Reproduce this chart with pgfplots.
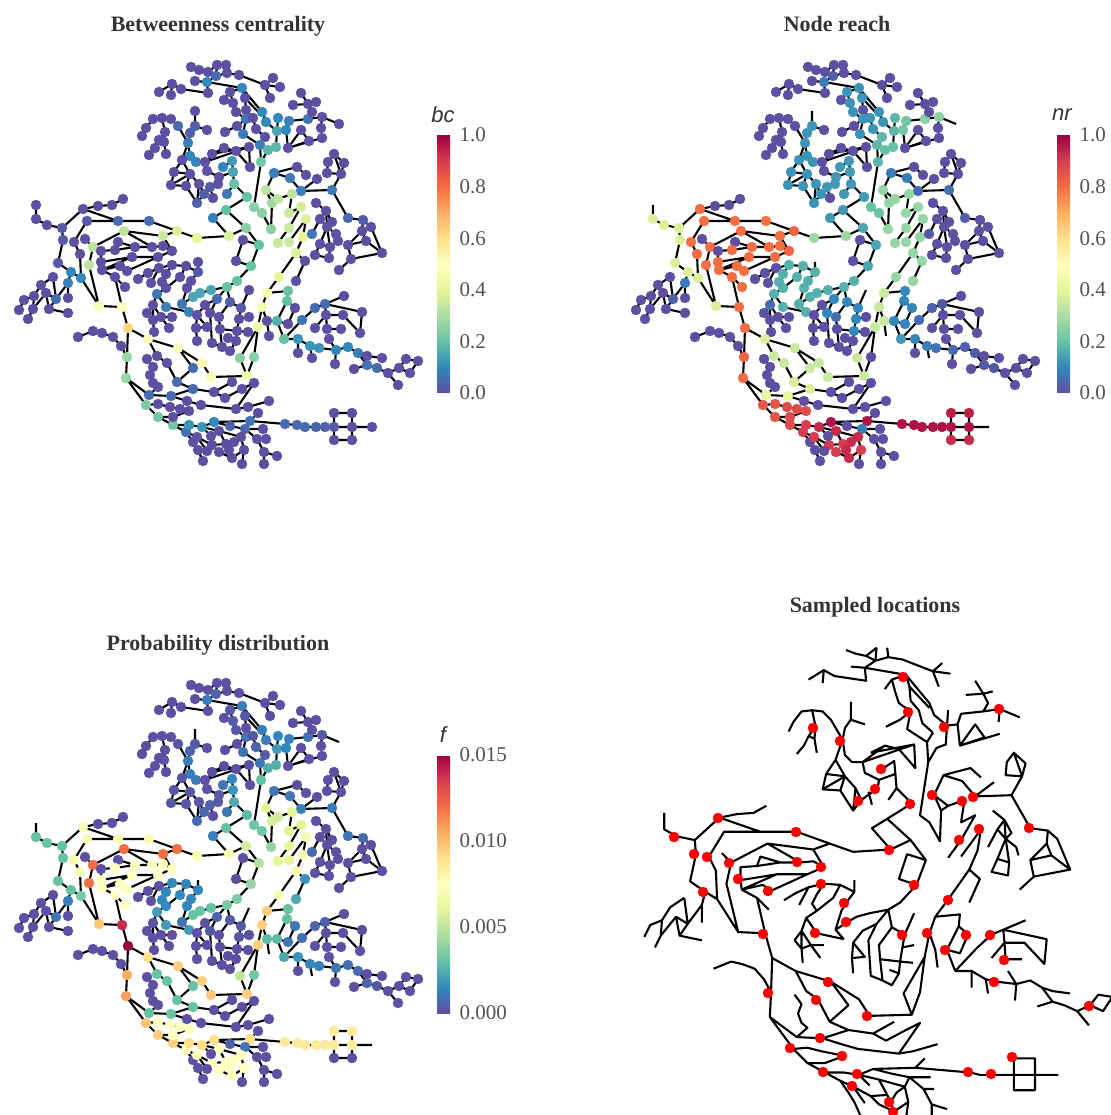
\documentclass[border=0pt]{standalone}
\usepackage{fontspec}
\setmainfont{Liberation Serif}
\newfontfamily\labfont{Liberation Sans}
\usepackage{pgfplots}
\usepackage{pgfplotstable}
\pgfplotsset{compat=1.18}
\definecolor{txt}{HTML}{333333}
\pgfplotsset{colormap={spec}{rgb255=(94,79,162) rgb255=(50,136,189) rgb255=(102,194,165) rgb255=(171,221,164) rgb255=(230,245,152) rgb255=(255,255,191) rgb255=(254,224,139) rgb255=(253,174,97) rgb255=(244,109,67) rgb255=(213,62,79) rgb255=(158,1,66)}}
\pgfplotstableread[row sep=crcr]{
x y\\
191 67\\199 70\\208 72\\217 65\\nan nan\\
217 65\\216 76\\207 82\\195 81\\nan nan\\
207 82\\208 93\\181 89\\172 84\\159 92\\nan nan\\
172 84\\171 95\\nan nan\\
208 72\\216 76\\227 73\\239 75\\265 85\\280 87\\nan nan\\
226 65\\227 73\\nan nan\\
265 85\\273 78\\nan nan\\
265 85\\270 98\\nan nan\\
207 82\\242 88\\262 112\\nan nan\\
242 88\\230 92\\224 100\\nan nan\\
230 92\\233 103\\236 112\\246 119\\237 126\\225 132\\nan nan\\
242 88\\245 98\\246 110\\253 118\\256 129\\265 137\\nan nan\\
245 98\\262 116\\nan nan\\
246 119\\243 134\\260 145\\261 162\\268 150\\276 147\\277 131\\278 118\\nan nan\\
262 112\\266 122\\277 131\\nan nan\\
265 137\\260 145\\nan nan\\
286 130\\277 131\\nan nan\\
286 130\\289 121\\308 119\\322 117\\339 124\\nan nan\\
286 130\\288 148\\nan nan\\
322 117\\321 128\\nan nan\\
308 119\\312 112\\308 104\\293 105\\nan nan\\
308 104\\316 102\\nan nan\\
308 104\\301 93\\nan nan\\
288 148\\301 130\\309 141\\288 148\\322 138\\nan nan\\
195 111\\195 126\\207 130\\nan nan\\
195 126\\190 133\\188 143\\178 126\\171 119\\162 118\\153 119\\146 128\\142 136\\nan nan\\
162 118\\165 132\\159 140\\155 148\\149 155\\nan nan\\
165 132\\164 142\\166 154\\nan nan\\
159 140\\164 142\\nan nan\\
188 143\\190 156\\196 162\\205 162\\nan nan\\
188 143\\182 160\\174 172\\171 185\\186 186\\197 203\\199 184\\190 174\\182 160\\nan nan\\
174 172\\190 174\\171 185\\nan nan\\
186 186\\190 174\\nan nan\\
197 203\\204 194\\218 184\\219 177\\207 171\\205 162\\nan nan\\
199 184\\204 194\\nan nan\\
210 187\\213 198\\nan nan\\
205 162\\224 148\\236 151\\250 167\\249 147\\205 162\\nan nan\\
212 154\\224 148\\nan nan\\
212 154\\249 147\\nan nan\\
223 167\\232 161\\233 172\\234 184\\247 197\\226 210\\nan nan\\
219 177\\233 172\\nan nan\\
234 184\\227 194\\nan nan\\
226 210\\213 218\\229 236\\197 238\\177 231\\149 221\\118 221\\87 221\\74 242\\80 254\\81 278\\nan nan\\
226 210\\246 228\\229 236\\nan nan\\
246 228\\259 245\\243 240\\236 261\\251 266\\259 245\\nan nan\\
251 266\\237 281\\227 287\\211 290\\200 293\\193 297\\182 304\\189 312\\nan nan\\
36 205\\36 219\\47 225\\62 228\\83 209\\98 206\\112 205\\123 199\\nan nan\\
83 209\\118 221\\nan nan\\
62 228\\63 240\\58 263\\71 272\\81 278\\99 306\\122 307\\128 328\\127 357\\126 378\\nan nan\\
71 272\\68 283\\68 298\\nan nan\\
68 283\\56 299\\46 293\\33 309\\28 319\\nan nan\\
53 277\\41 285\\34 296\\24 300\\19 310\\nan nan\\
34 296\\33 309\\nan nan\\
53 277\\56 299\\49 309\\68 313\\nan nan\\
46 293\\49 309\\nan nan\\
177 231\\163 236\\124 231\\93 247\\85 239\\nan nan\\
93 247\\89 265\\99 306\\nan nan\\
163 236\\172 251\\163 246\\152 247\\135 247\\118 242\\115 250\\101 251\\101 262\\102 270\\nan nan\\
124 231\\152 247\\nan nan\\
115 250\\135 247\\nan nan\\
101 262\\132 257\\158 257\\172 251\\nan nan\\
102 270\\132 257\\nan nan\\
102 270\\120 266\\127 271\\158 257\\nan nan\\
102 270\\115 277\\125 287\\nan nan\\
115 277\\122 307\\nan nan\\
138 279\\148 273\\159 268\\172 265\\186 266\\198 272\\198 262\\nan nan\\
198 272\\191 281\\187 288\\182 304\\nan nan\\
186 266\\180 277\\166 288\\157 294\\153 305\\147 313\\nan nan\\
172 265\\166 274\\162 282\\166 288\\nan nan\\
151 283\\159 268\\nan nan\\
157 294\\166 307\\189 312\\nan nan\\
153 305\\153 320\\154 332\\nan nan\\
147 313\\153 320\\161 317\\172 317\\nan nan\\
161 317\\169 328\\nan nan\\
161 317\\153 305\\nan nan\\
227 287\\217 299\\205 305\\197 315\\196 328\\207 327\\197 315\\nan nan\\
196 328\\197 341\\nan nan\\
217 299\\210 313\\212 343\\222 347\\230 351\\236 341\\nan nan\\
227 287\\230 302\\241 308\\239 319\\237 331\\220 329\\219 317\\230 302\\nan nan\\
241 308\\249 290\\nan nan\\
239 319\\249 317\\nan nan\\
237 331\\248 332\\nan nan\\
228 338\\236 341\\237 331\\nan nan\\
220 329\\222 347\\nan nan\\
261 162\\254 207\\262 213\\271 229\\272 203\\266 190\\274 173\\297 167\\306 175\\nan nan\\
274 173\\290 178\\301 191\\332 190\\341 174\\327 173\\328 162\\334 154\\344 163\\341 174\\nan nan\\
334 154\\341 174\\nan nan\\
301 191\\317 179\\nan nan\\
266 190\\278 199\\292 194\\289 213\\301 207\\289 228\\278 243\\nan nan\\
272 203\\278 199\\nan nan\\
306 219\\289 242\\nan nan\\
306 219\\303 237\\296 253\\279 277\\267 293\\262 307\\258 327\\nan nan\\
296 253\\305 261\\296 281\\nan nan\\
332 190\\348 218\\363 220\\371 227\\382 253\\351 259\\339 270\\nan nan\\
363 220\\362 231\\348 245\\351 259\\nan nan\\
362 231\\366 241\\382 253\\nan nan\\
348 245\\366 241\\nan nan\\
316 203\\326 211\\320 219\\312 234\\nan nan\\
326 211\\332 222\\327 227\\336 234\\338 241\\nan nan\\
326 211\\327 227\\330 247\\329 258\\315 255\\320 244\\330 247\\nan nan\\
320 219\\327 227\\320 244\\nan nan\\
267 293\\288 291\\287 301\\277 321\\284 339\\nan nan\\
287 301\\295 308\\288 324\\277 321\\nan nan\\
262 307\\267 321\\269 336\\nan nan\\
258 327\\240 358\\247 376\\211 377\\202 363\\178 348\\148 339\\128 328\\nan nan\\
258 327\\254 357\\247 376\\nan nan\\
148 339\\157 356\\167 363\\177 382\\193 368\\178 348\\nan nan\\
126 378\\149 395\\171 396\\193 389\\214 392\\232 382\\nan nan\\
177 382\\193 389\\nan nan\\
214 392\\225 398\\242 389\\254 383\\236 409\\nan nan\\
171 396\\187 401\\201 405\\236 409\\248 407\\269 401\\nan nan\\
127 357\\121 346\\113 337\\102 333\\93 331\\78 337\\nan nan\\
147 359\\153 367\\150 375\\153 383\\158 387\\149 395\\nan nan\\
126 378\\146 405\\158 417\\173 425\\189 425\\202 427\\214 422\\250 421\\285 424\\297 425\\305 427\\316 427\\325 427\\334 427\\352 427\\372 427\\nan nan\\
146 405\\158 404\\170 407\\180 409\\189 411\\173 417\\158 417\\nan nan\\
334 413\\352 413\\352 440\\334 440\\334 413\\nan nan\\
250 421\\258 413\\nan nan\\
173 425\\186 432\\193 442\\198 450\\203 461\\nan nan\\
186 432\\197 437\\207 451\\nan nan\\
202 427\\211 436\\nan nan\\
197 437\\212 445\\226 444\\nan nan\\
202 427\\219 431\\226 444\\229 450\\232 458\\219 452\\212 445\\nan nan\\
214 422\\230 426\\245 429\\263 429\\nan nan\\
219 431\\241 437\\234 442\\229 450\\nan nan\\
245 429\\241 437\\244 450\\232 458\\nan nan\\
244 450\\242 464\\nan nan\\
245 429\\257 439\\264 452\\264 464\\nan nan\\
264 452\\277 456\\nan nan\\
257 439\\266 439\\nan nan\\
284 339\\298 339\\310 346\\319 348\\336 350\\348 347\\358 353\\367 356\\382 358\\nan nan\\
298 339\\298 353\\nan nan\\
310 346\\312 358\\nan nan\\
336 350\\329 339\\nan nan\\
336 350\\335 364\\nan nan\\
358 353\\367 365\\377 368\\388 373\\399 368\\406 359\\418 361\\410 373\\399 368\\nan nan\\
388 373\\398 385\\nan nan\\
367 365\\354 369\\nan nan\\
284 339\\302 320\\315 308\\325 304\\344 296\\nan nan\\
325 304\\362 312\\360 333\\343 315\\326 315\\325 304\\nan nan\\
326 315\\315 328\\nan nan\\
326 315\\327 329\\341 329\\nan nan\\
}\edgetable
\pgfplotstableread[row sep=crcr]{
x y bc nr f\\
191 67 0 0 0\\199 70 0 0 0\\208 72 0 0 0\\217 65 0 0 0\\226 65 0 0 0\\216 76 .05 .03 .5\\227 73 0 0 0\\239 75 0 0 0\\265 85 0 0 0\\273 78 0 0 0\\280 87 0 0 0\\270 98 0 0 0\\
207 82 .1 .08 1.2\\195 81 0 0 0\\208 93 0 0 0\\181 89 0 0 0\\172 84 0 0 0\\159 92 0 0 0\\171 95 0 0 0\\
242 88 .1 .12 1.2\\230 92 0 .12 .3\\224 100 0 0 0\\233 103 0 .12 .3\\245 98 0 .12 .3\\236 112 0 .12 .3\\246 110 0 0 0\\246 119 .07 .12 1\\253 118 0 .12 .3\\237 126 0 0 0\\225 132 0 0 0\\243 134 .08 .12 1\\256 129 0 .12 .5\\262 112 .1 .12 1.2\\266 122 .1 .12 1.2\\278 118 .1 .18 1.5\\277 131 .15 .18 2\\286 130 .1 .22 1.5\\289 121 .08 .22 1.3\\265 137 0 .18 .3\\260 145 .08 .18 1\\268 150 .18 .2 2.5\\276 147 .18 .2 2.5\\261 162 .22 .18 3\\288 148 0 0 0\\301 130 0 0 0\\309 141 0 0 0\\322 138 0 0 0\\308 119 .07 .25 1\\322 117 0 .25 .3\\321 128 0 0 0\\293 105 0 0 0\\308 104 0 0 0\\316 102 0 0 0\\301 93 0 0 0\\312 112 0 0 0\\
195 126 .03 .12 .3\\207 130 0 0 0\\190 133 .03 .12 .5\\188 143 .08 .12 1.2\\178 126 .05 0 .2\\171 119 0 0 0\\162 118 0 0 0\\153 119 0 0 0\\146 128 0 0 0\\142 136 0 0 0\\165 132 0 0 0\\159 140 0 0 0\\164 142 0 0 0\\155 148 0 0 0\\149 155 0 0 0\\166 154 0 0 0\\
190 156 .1 .12 1.2\\196 162 .1 .12 1.2\\182 160 0 .12 .2\\174 172 0 .12 .2\\171 185 0 .12 .2\\190 174 0 .12 .2\\186 186 0 .12 .2\\199 184 0 .12 .2\\197 203 .03 .12 .8\\204 194 .03 .12 .6\\213 198 0 0 0\\210 187 .02 .13 .5\\218 184 0 .13 .3\\219 177 0 .13 .3\\207 171 0 0 0\\205 162 0 0 0\\212 154 0 0 0\\224 148 0 0 0\\236 151 0 0 0\\249 147 0 0 0\\250 167 0 0 0\\223 167 .1 .13 1\\232 161 .13 .13 1.5\\233 172 .15 .13 1.8\\234 184 .2 .13 2.4\\227 194 .07 .13 1\\247 197 .2 .13 2.8\\226 210 .2 .13 3\\213 218 .08 .13 1.3\\229 236 .38 .28 7\\246 228 .25 .15 5.5\\259 245 .2 .15 4.7\\243 240 0 0 0\\236 261 0 0 0\\251 266 .2 .15 4\\
36 219 0 .38 3\\47 225 0 .38 3\\62 228 .02 .38 3\\83 209 0 .8 7\\98 206 0 0 0\\112 205 0 0 0\\123 199 0 0 0\\118 221 .05 .8 7\\149 221 .05 .8 7\\87 221 .02 .8 7\\177 231 .38 .82 12\\197 238 .4 .28 7\\163 236 .35 .8 12\\124 231 .33 .8 12\\93 247 .33 .8 12\\85 239 0 0 0\\63 240 .02 .38 3\\58 263 .02 .38 3\\74 242 0 .8 7\\80 254 0 .8 7\\89 265 .33 .8 12\\71 272 .1 .38 3\\81 278 .1 .38 3.4\\68 283 .08 .08 1.2\\68 298 0 0 0\\56 299 .05 .03 1\\53 277 0 0 0\\41 285 0 0 0\\46 293 0 0 0\\34 296 0 0 0\\24 300 0 0 0\\19 310 0 0 0\\33 309 0 0 0\\28 319 0 0 0\\49 309 0 0 0\\68 313 0 0 0\\
118 242 0 0 0\\135 247 0 .8 7.5\\152 247 0 .8 7.5\\163 246 0 .8 7.5\\172 251 0 .82 7.5\\115 250 0 .8 7.5\\101 251 0 0 0\\132 257 0 .8 7.5\\158 257 0 .8 7.5\\101 262 0 .8 7.5\\102 270 0 .8 7.5\\120 266 0 .8 7.5\\127 271 0 .8 7.5\\115 277 0 .8 7.5\\125 287 0 .8 7.5\\
138 279 0 0 0\\148 273 0 0 0\\159 268 0 0 0\\172 265 0 .17 1.5\\186 266 0 .17 1.5\\198 272 .02 .17 1.5\\180 277 0 .17 1.5\\166 274 0 .17 1.5\\162 282 0 .17 1.5\\151 283 0 0 0\\191 281 0 .17 1.5\\187 288 0 .17 1.5\\166 288 0 .17 1.5\\157 294 .07 .17 2\\153 305 0 .05 0\\147 313 0 0 0\\153 320 0 0 0\\161 317 0 0 0\\172 317 0 0 0\\154 332 0 0 0\\169 328 0 0 0\\166 307 .08 .17 2\\
182 304 .07 .17 1\\189 312 .1 .17 2\\193 297 .15 .17 3\\200 293 .15 .17 3\\211 290 .15 .17 3\\227 287 .2 .17 3.4\\237 281 .2 .17 3.5\\
217 299 .05 .1 .5\\230 302 .03 .1 .3\\241 308 .02 .1 .3\\205 305 0 0 0\\197 315 0 0 0\\210 313 0 .1 .2\\219 317 0 .05 0\\239 319 0 .1 .2\\249 317 0 0 0\\196 328 0 0 0\\207 327 0 0 0\\197 341 0 0 0\\212 343 0 0 0\\220 329 0 0 0\\237 331 0 .1 0\\248 332 0 0 0\\228 338 0 0 0\\236 341 0 0 0\\222 347 0 0 0\\230 351 0 0 0\\
279 277 .4 .27 7\\296 281 0 .27 2.3\\305 261 0 .27 1.7\\267 293 .47 .35 9.5\\288 291 .2 .1 3\\287 301 .2 .1 3\\295 308 0 .1 1\\277 321 .17 .1 2.8\\288 324 0 .1 1\\262 307 .47 .35 9.5\\267 321 0 .35 2.8\\258 327 .45 .35 9.5\\284 339 .2 .13 2.3\\298 339 .12 .1 1.8\\298 353 0 0 0\\310 346 .12 .08 1.5\\319 348 .12 .07 1.3\\336 350 .1 .05 1.1\\329 339 0 0 0\\335 364 0 0 0\\348 347 .1 .03 .9\\358 353 .08 .02 .7\\367 356 0 0 0\\382 358 0 0 0\\367 365 .06 .02 .5\\377 368 .05 .02 .3\\354 369 0 0 0\\388 373 0 0 0\\398 385 0 0 0\\399 368 0 0 0\\406 359 0 0 0\\418 361 0 0 0\\410 373 0 0 0\\
302 320 .07 .05 .8\\315 308 .05 .03 .6\\325 304 .05 .02 .5\\344 296 0 0 0\\362 312 0 0 0\\343 315 0 0 0\\326 315 0 0 0\\315 328 0 0 0\\327 329 0 0 0\\341 329 0 0 0\\360 333 0 0 0\\
240 358 .25 .35 5\\254 357 .25 0 3.3\\247 376 .45 .35 9.5\\211 377 .47 .35 9.8\\232 382 0 0 0\\254 383 0 0 0\\242 389 0 0 0\\225 398 0 0 0\\214 392 0 0 0\\236 409 0 0 0\\248 407 0 0 0\\269 401 0 0 0\\258 413 0 0 0\\
250 421 .07 .97 9\\214 422 .1 .97 9\\285 424 .05 .97 8.5\\297 425 .05 .97 8.5\\305 427 .05 .97 8.5\\316 427 .04 .97 8.5\\325 427 .03 .97 8.5\\334 427 .02 .97 8.5\\352 427 0 .97 8.5\\334 413 0 .95 8.5\\352 413 0 .95 8.5\\334 440 0 .93 0\\352 440 0 .93 0\\
230 426 .03 0 .5\\245 429 .05 .08 1\\263 429 0 0 0\\257 439 0 0 0\\266 439 0 0 0\\241 437 0 .93 7.5\\234 442 0 .93 7.5\\244 450 0 .9 7.5\\242 464 0 0 0\\264 452 0 0 0\\277 456 0 0 0\\264 464 0 0 0\\226 444 0 .9 7.5\\229 450 0 .93 7.5\\232 458 0 .93 7.5\\219 431 0 .93 7.5\\219 452 0 .9 7.5\\212 445 0 .9 7.5\\211 436 0 0 0\\193 442 0 0 0\\198 450 0 0 0\\203 461 0 0 0\\207 451 0 0 0\\197 437 .01 .9 7.5\\186 432 .06 .9 7.7\\202 427 .12 .93 9\\189 425 .12 .9 9\\173 425 .22 .87 9.5\\158 417 .22 .85 9.5\\146 405 .23 .85 9.8\\158 404 0 .85 7.5\\170 407 0 .87 7.5\\180 409 0 .87 7.5\\189 411 0 .87 7.5\\173 417 0 .87 7.5\\
126 378 .27 .8 10.8\\127 357 .27 .82 10.5\\128 328 .62 .8 15\\122 307 .5 .8 14\\99 306 .48 .38 9.8\\148 339 .48 .38 9\\178 348 .48 .35 9.5\\157 356 0 .35 3\\167 363 0 .35 3\\177 382 .05 .38 3\\193 368 .05 .35 3\\202 363 .48 .35 9.5\\193 389 .05 .38 3\\149 395 .05 .42 3\\171 396 .05 .42 3\\187 401 0 0 0\\201 405 0 0 0\\
121 346 0 0 0\\113 337 0 0 0\\102 333 0 0 0\\93 331 0 0 0\\78 337 0 0 0\\147 359 0 0 0\\153 367 0 0 0\\150 375 0 0 0\\153 383 0 0 0\\158 387 0 0 0\\
274 173 .08 .08 1\\266 190 .33 .27 6\\290 178 .08 .08 1\\297 167 0 0 0\\306 175 0 0 0\\301 191 .08 .05 1.3\\317 179 0 0 0\\332 190 .08 .06 1.2\\327 173 0 0 0\\328 162 0 0 0\\334 154 0 0 0\\344 163 0 0 0\\341 174 0 0 0\\348 218 .05 .03 1\\363 220 .03 0 .7\\371 227 0 0 0\\362 231 0 0 0\\366 241 0 0 0\\348 245 0 0 0\\382 253 0 0 0\\351 259 0 0 0\\339 270 0 0 0\\
272 203 .28 .27 5.5\\278 199 .33 .27 5.5\\292 194 .33 .27 6\\289 213 .35 .27 6\\301 207 .37 .27 6\\254 207 .25 .2 3.2\\262 213 .25 .2 3.2\\271 229 .25 .27 4\\306 219 .38 .27 7\\289 228 .35 .27 6\\278 243 .35 .27 6\\289 242 .35 .27 6\\303 237 .4 .27 7\\296 253 .38 .27 7\\
316 203 0 0 0\\326 211 0 0 0\\320 219 0 0 0\\332 222 0 0 0\\327 227 0 0 0\\336 234 0 0 0\\338 241 0 0 0\\320 244 0 0 0\\330 247 0 0 0\\315 255 0 0 0\\329 258 0 0 0\\312 234 .07 .02 .7\\
}\nettable
\pgfplotstableread[row sep=crcr]{
x y\\36 205\\195 111\\198 262\\249 290\\269 336\\312 358\\339 124\\372 427\\
}\stubtable
\pgfplotstableread[row sep=crcr]{
x y\\
718 818\\674 837\\694 854\\707 857\\729 863\\796 832\\797 862\\821 867\\738 879\\813 728\\840 741\\858 801\\
903 677\\908 712\\944 727\\999 709\\881 769\\875 789\\910 804\\932 795\\962 801\\973 797\\889 850\\1029 828\\979 829\\959 840\\
703 892\\768 891\\821 884\\844 903\\846 922\\815 933\\763 934\\828 982\\816 1000\\768 993\\867 1016\\820 1038\\790 1048\\842 1056\\823 1072\\857 1074\\852 1086\\
914 885\\948 900\\902 935\\927 933\\966 935\\990 935\\945 950\\1004 960\\994 982\\1089 1006\\1012 1057\\968 1072\\991 1074\\889 1102\\893 1112\\
}\samples
\pgfplotsset{
  net/.style={anchor=south west,scale only axis,width=450pt,height=500pt,xmin=0,xmax=450,ymin=0,ymax=500,y dir=reverse,clip=false,hide axis,unbounded coords=jump,colormap name=spec},
  edge/.style={black,line width=2.1pt,no markers,line join=round},
  dots/.style={scatter,only marks,mark=*,mark size=5pt,scatter src=explicit,scatter/use mapped color={draw=mapped color,fill=mapped color}},
  cbar/.style={anchor=south west,width=13pt,height=258pt,major tick length=0pt,axis line style={draw=none},tick style={draw=none},yticklabel style={font=\fontsize{21}{23}\selectfont,text=txt!85,/pgf/number format/assume math mode=true,/pgf/number format/fixed,/pgf/number format/fixed zerofill,xshift=6pt}},
}
\tikzset{ttl/.style={text=txt,anchor=base,font=\fontsize{22}{24}\selectfont\bfseries}}
\begin{document}
\begin{tikzpicture}
\path[use as bounding box] (0,0) rectangle (1110pt,1115pt);
\begin{axis}[at={(0pt,615pt)},net,point meta min=0,point meta max=1,colorbar,
  colorbar style={cbar,at={(437/450,107/500)},ytick={0,0.2,0.4,0.6,0.8,1},/pgf/number format/precision=1}]
\addplot[edge] table[x=x,y=y] \edgetable;
\addplot[dots] table[x=x,y=y,meta=bc] \nettable;
\addplot[only marks,mark=*,mark size=5pt,color={rgb,255:red,94;green,79;blue,162}] table[x=x,y=y] \stubtable;
\end{axis}
\begin{axis}[at={(617pt,615pt)},net,point meta min=0,point meta max=1,colorbar,
  colorbar style={cbar,at={(440/450,107/500)},ytick={0,0.2,0.4,0.6,0.8,1},/pgf/number format/precision=1}]
\addplot[edge] table[x=x,y=y] \edgetable;
\addplot[dots] table[x=x,y=y,meta=nr] \nettable;
\end{axis}
\begin{axis}[at={(0pt,-3pt)},net,point meta min=0,point meta max=0.015,colorbar,
  colorbar style={cbar,at={(437/450,105/500)},ytick={0,0.005,0.01,0.015},scaled ticks=false,/pgf/number format/precision=3}]
\addplot[edge] table[x=x,y=y] \edgetable;
\addplot[dots] table[x=x,y=y,meta expr=\thisrow{f}/1000] \nettable;
\end{axis}
\begin{axis}[at={(622.06pt,-46pt)},anchor=south west,scale only axis,width=527.85pt,height=590pt,xmin=0,xmax=450,ymin=0,ymax=500,y dir=reverse,clip=false,hide axis,unbounded coords=jump]
\addplot[edge] table[x=x,y=y] \edgetable;
\end{axis}
\begin{axis}[at={(0pt,0pt)},anchor=south west,scale only axis,width=1110pt,height=1115pt,xmin=0,xmax=1110,ymin=0,ymax=1115,y dir=reverse,clip=false,hide axis]
\addplot[only marks,mark=*,mark size=5pt,color=red] table[x=x,y=y] \samples;
\node[ttl] at (axis cs:218,32) {Betweenness centrality};
\node[ttl] at (axis cs:837,32) {Node reach};
\node[ttl] at (axis cs:218,650) {Probability distribution};
\node[ttl] at (axis cs:875,612) {Sampled locations};
\node[text=txt,font=\fontsize{22}{24}\selectfont\labfont\itshape] at (axis cs:443,115) {bc};
\node[text=txt,font=\fontsize{22}{24}\selectfont\labfont\itshape] at (axis cs:1062,115) {nr};
\node[text=txt,font=\fontsize{22}{24}\selectfont\labfont\itshape] at (axis cs:443,735) {f};
\end{axis}
\end{tikzpicture}
\end{document}
